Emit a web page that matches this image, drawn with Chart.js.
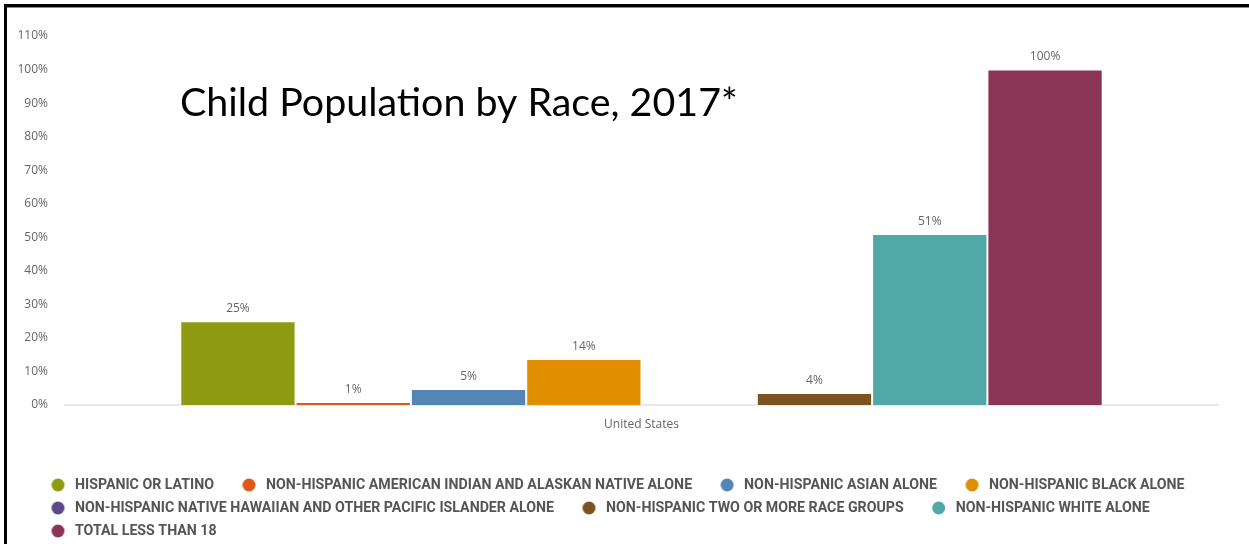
<!DOCTYPE html>
<html><head><meta charset="utf-8">
<script src="https://cdn.jsdelivr.net/npm/chart.js@4.4.1/dist/chart.umd.min.js"></script>
<style>
html,body{margin:0;padding:0;background:#fff;}
#wrap{position:relative;width:1249px;height:544px;overflow:hidden;}
#frame{position:absolute;left:4px;top:4px;width:1300px;height:600px;border-top:3px solid #000;border-left:3px solid #000;box-shadow:inset 0 1px 0 #888;pointer-events:none;}
</style></head><body>
<div id="wrap"><canvas id="c" width="1249" height="544"></canvas><div id="frame"></div></div>
<script>
// ---- data ----
const chartTitle = 'Child Population by Race, 2017*';
const categories = ['United States'];
const seriesNames = [
  'HISPANIC OR LATINO',
  'NON-HISPANIC AMERICAN INDIAN AND ALASKAN NATIVE ALONE',
  'NON-HISPANIC ASIAN ALONE',
  'NON-HISPANIC BLACK ALONE',
  'NON-HISPANIC NATIVE HAWAIIAN AND OTHER PACIFIC ISLANDER ALONE',
  'NON-HISPANIC TWO OR MORE RACE GROUPS',
  'NON-HISPANIC WHITE ALONE',
  'TOTAL LESS THAN 18'
];
const seriesValues = [25, 0.9, 4.8, 13.7, null, 3.6, 51, 100];
const yMin = 0, yMax = 110, yStep = 10;

// ---- styles ----
const seriesColors = ['#8f9a13', '#db5a18', '#5585b5', '#e08e00', '#5a4a8a', '#7a5320', '#52a8a6', '#8b3556'];

const mc = document.createElement('canvas').getContext('2d');
function fitSize(text, family, weight, target) {
  mc.font = weight + ' 100px ' + family;
  return 100 * target / mc.measureText(text).width;
}
const LEG_FAMILY = 'Roboto';
const legSize = Math.round(fitSize(seriesNames[1], LEG_FAMILY, 'bold', 427) * 10) / 10;
const legPad = 23 - legSize;
const boxW = 29 + legSize / 2;
const dotOff = 0.75 * legSize - 2.5;
const padBottom = 3 - legSize / 2;
function makeDot(color) {
  const c = document.createElement('canvas');
  const w = Math.ceil(2 * (Math.abs(dotOff) + 8));
  c.width = w; c.height = 16;
  const g = c.getContext('2d');
  g.fillStyle = color;
  g.beginPath();
  g.arc(w / 2 + dotOff, 8, 6.5, 0, Math.PI * 2);
  g.fill();
  return c;
}
const dots = seriesColors.map(makeDot);

const TITLE_FAMILY = 'Lato';
const titleSize = fitSize(chartTitle, TITLE_FAMILY, 'normal', 558);

const valueLabels = {
  id: 'valueLabels',
  afterDatasetsDraw(chart) {
    const ctx = chart.ctx;
    ctx.save();
    ctx.font = '12px "Open Sans"';
    ctx.fillStyle = '#666666';
    ctx.textAlign = 'center';
    ctx.textBaseline = 'middle';
    chart.data.datasets.forEach((ds, i) => {
      const meta = chart.getDatasetMeta(i);
      meta.data.forEach((el, j) => {
        const v = ds.data[j];
        if (v === null || v === undefined) return;
        ctx.fillText(Math.round(v) + '%', el.x, el.y - 12.5);
      });
    });
    ctx.restore();
  }
};
const overlayTitle = {
  id: 'overlayTitle',
  afterDraw(chart) {
    const ctx = chart.ctx;
    ctx.save();
    ctx.font = titleSize + 'px ' + TITLE_FAMILY;
    ctx.fillStyle = '#000';
    ctx.textAlign = 'left';
    ctx.textBaseline = 'alphabetic';
    ctx.fillText(chartTitle, 180, 116);
    ctx.restore();
  }
};
const legendShift = {
  id: 'legendShift',
  afterLayout(chart) {
    const lg = chart.legend;
    if (lg) { lg.left = 23; lg.width = lg.right - lg.left; }
  }
};

new Chart(document.getElementById('c'), {
  type: 'bar',
  data: {
    labels: categories,
    datasets: seriesNames.map((name, i) => ({
      label: name,
      data: [seriesValues[i]],
      backgroundColor: seriesColors[i],
      borderColor: '#ffffff',
      borderWidth: 1,
      pointStyle: dots[i]
    }))
  },
  options: {
    responsive: false,
    animation: false,
    devicePixelRatio: 1,
    layout: { padding: { left: 0, right: 31, top: 36, bottom: padBottom } },
    datasets: { bar: { categoryPercentage: 0.8, barPercentage: 1.0 } },
    scales: {
      x: {
        grid: { display: false, drawTicks: false },
        border: { display: true, color: '#e6e9ef', width: 2 },
        ticks: { color: '#666666', font: { family: 'Open Sans', size: 12 }, padding: 12 },
        afterFit(s) { s.height = 544 - padBottom - (3 * 23 + 10) - 405; }
      },
      y: {
        min: yMin, max: yMax,
        grid: { display: false, drawTicks: false },
        border: { display: false },
        ticks: {
          stepSize: yStep,
          color: '#666666',
          font: { family: 'Open Sans', size: 12 },
          padding: 17,
          callback: v => v + '%'
        },
        afterFit(s) { s.width = 65; }
      }
    },
    plugins: {
      tooltip: { enabled: false },
      title: { display: false },
      legend: {
        position: 'bottom',
        align: 'start',
        labels: {
          usePointStyle: true,
          pointStyleWidth: boxW,
          padding: legPad,
          color: '#555555',
          font: { family: LEG_FAMILY, size: legSize, weight: 'bold' },
          generateLabels(chart) {
            const items = Chart.defaults.plugins.legend.labels.generateLabels(chart);
            items.forEach((it, i) => { it.pointStyle = dots[i]; });
            return items;
          }
        }
      }
    }
  },
  plugins: [valueLabels, overlayTitle, legendShift]
});
</script>
</body></html>
